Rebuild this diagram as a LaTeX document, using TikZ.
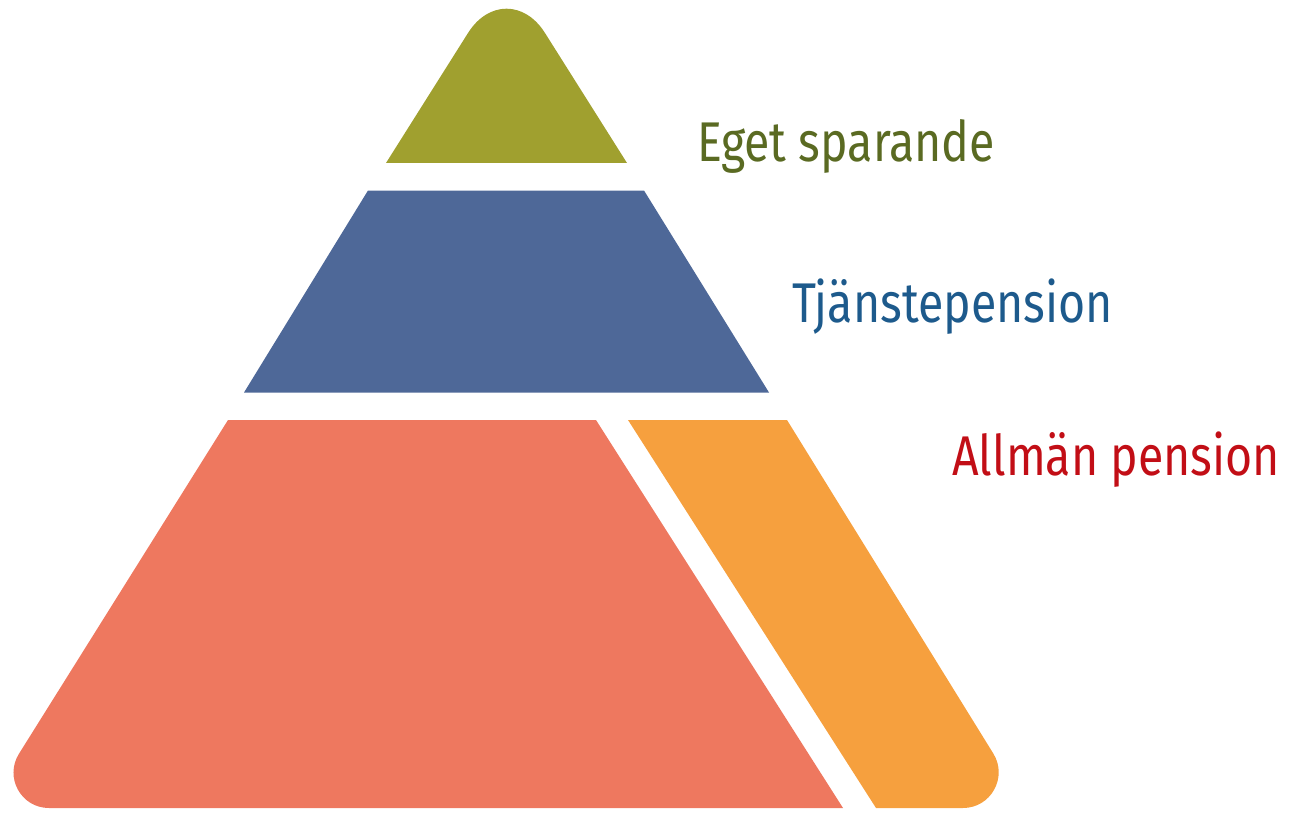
\documentclass[tikz,border=0pt]{standalone}
\usepackage{fontspec}
\setmainfont{Fira Sans}
\newfontfamily\lblfont[FakeStretch=0.83]{Fira Sans}
\usetikzlibrary{calc}
\definecolor{cgreen}{HTML}{A0A02F}
\definecolor{cblue}{HTML}{4E6898}
\definecolor{cred}{HTML}{EE785F}
\definecolor{corange}{HTML}{F6A03E}
\definecolor{tgreen}{HTML}{5A6A22}
\definecolor{tblue}{HTML}{1D5A8C}
\definecolor{tred}{HTML}{C20E16}
\tikzset{
  lbl/.style={anchor=base west, inner sep=0pt, font=\lblfont\fontsize{56}{60}\selectfont},
}
\begin{document}
\begin{tikzpicture}[x=1pt,y=-1pt]
\useasboundingbox (0,0) rectangle (1289,813);
% green top
\coordinate (gA) at (506.5,-28);
\coordinate (gL) at (386,163);
\coordinate (gR) at (627,163);
\coordinate (gl) at ($(gA)!72pt!(gL)$);
\coordinate (gr) at ($(gA)!72pt!(gR)$);
\fill[cgreen] (gL) -- (gl) .. controls ($(gl)!0.53!(gA)$) and ($(gr)!0.53!(gA)$) .. (gr) -- (gR) -- cycle;
% blue band
\fill[cblue] (368,190.5) -- (644,190.5) -- (769,392.5) -- (244,392.5) -- cycle;
% red
\coordinate (rV) at (-15,808);
\coordinate (rT) at (228,420);
\coordinate (rB) at (843,808);
\coordinate (ra) at ($(rV)!64pt!(rT)$);
\coordinate (rb) at ($(rV)!64pt!(rB)$);
\fill[cred] (rT) -- (596,420) -- (rB) -- (rb) .. controls ($(rb)!0.436!(rV)$) and ($(ra)!0.436!(rV)$) .. (ra) -- cycle;
% orange
\coordinate (oV) at (1027,808);
\coordinate (oT) at (787,420);
\coordinate (oB) at (876,808);
\coordinate (oa) at ($(oV)!64pt!(oT)$);
\coordinate (ob) at ($(oV)!64pt!(oB)$);
\fill[corange] (628,420) -- (oT) -- (oa) .. controls ($(oa)!0.436!(oV)$) and ($(ob)!0.436!(oV)$) .. (ob) -- (oB) -- cycle;
% labels
\node[lbl, text=tgreen] (t1) at (697,161) {Eget sparande};
\node[lbl, text=tblue] (t2) at (792,322) {Tjänstepension};
\node[lbl, text=tred] (t3) at (952,475) {Allmän pension};
\end{tikzpicture}
\end{document}
